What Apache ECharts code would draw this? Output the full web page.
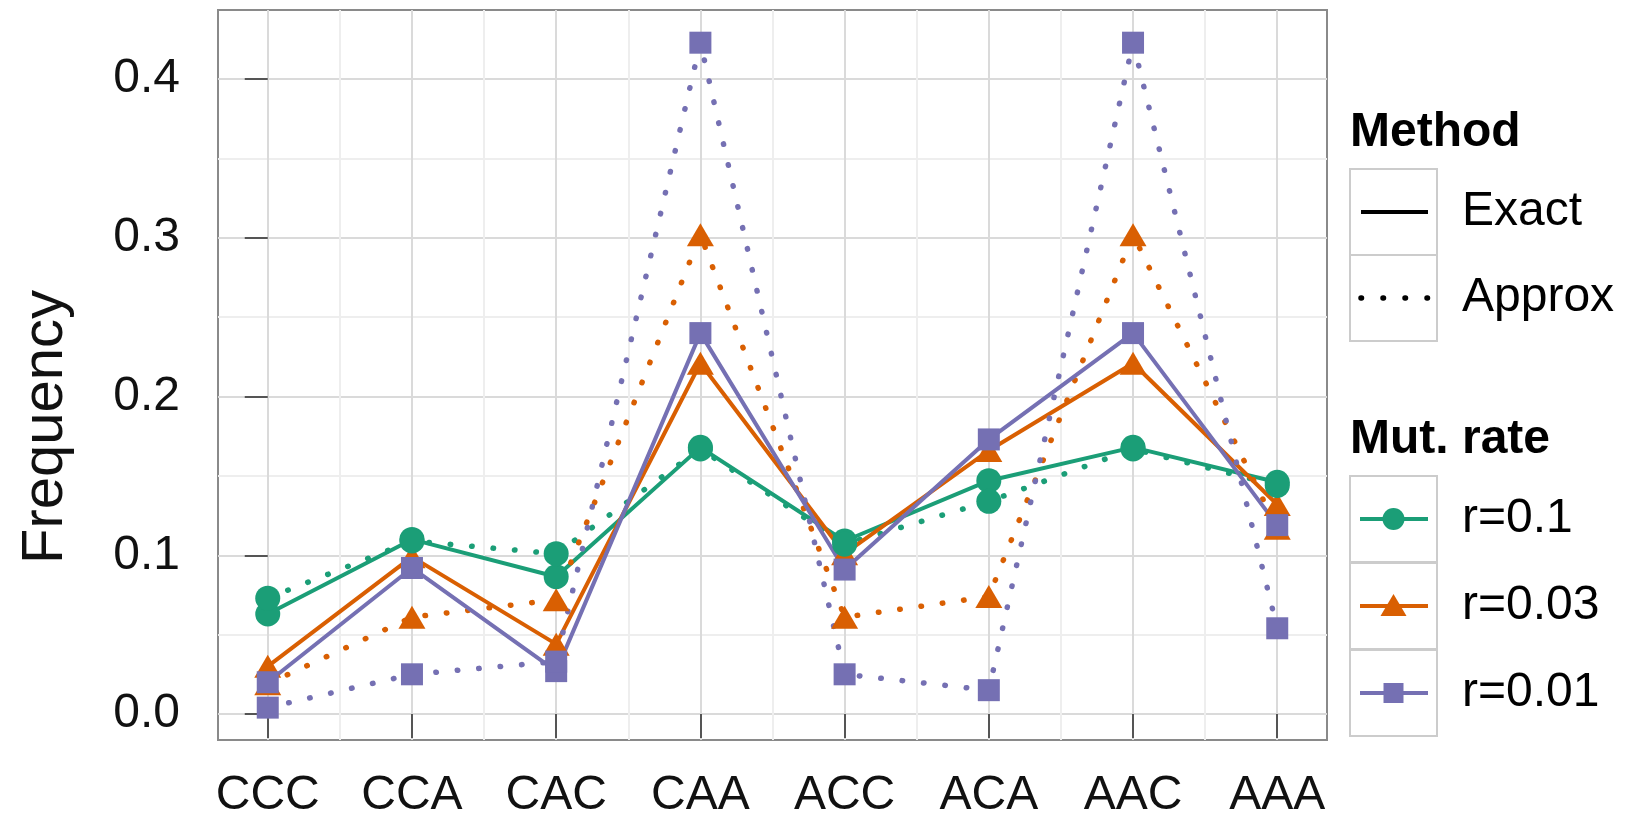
<!DOCTYPE html>
<html><head><meta charset="utf-8">
<script src="https://cdn.jsdelivr.net/npm/echarts@6/dist/echarts.min.js"></script>
<style>html,body{margin:0;padding:0;background:#fff}#c{width:1630px;height:820px}</style>
</head><body><div id="c"></div>
<script>
// ---- data ----
const categories = ['CCC', 'CCA', 'CAC', 'CAA', 'ACC', 'ACA', 'AAC', 'AAA'];
const yTicks = [0, 0.1, 0.2, 0.3, 0.4];
const yMinorTicks = [0.05, 0.15, 0.25, 0.35];
const rateNames = ['r=0.1', 'r=0.03', 'r=0.01'];
const methodNames = ['Exact', 'Approx'];
const exactR01  = [0.063, 0.110, 0.0865, 0.168, 0.109, 0.147, 0.168, 0.146];
const approxR01 = [0.073, 0.109, 0.101, 0.167, 0.107, 0.134, 0.167, 0.144];
const exactR003  = [0.030, 0.099, 0.044, 0.221, 0.101, 0.166, 0.221, 0.132];
const approxR003 = [0.019, 0.061, 0.072, 0.302, 0.061, 0.074, 0.302, 0.117];
const exactR001  = [0.020, 0.092, 0.027, 0.240, 0.091, 0.173, 0.240, 0.119];
const approxR001 = [0.004, 0.025, 0.033, 0.423, 0.025, 0.015, 0.423, 0.054];

// ---- styling ----
const FONT = "'Liberation Sans', Arial, Helvetica, sans-serif";
const colors = { 'r=0.1': '#1B9E77', 'r=0.03': '#D95F02', 'r=0.01': '#7570B3' };
const symbols = { 'r=0.1': 'circle', 'r=0.03': 'triangle', 'r=0.01': 'rect' };
const symbolSizes = { 'r=0.1': 25, 'r=0.03': [27, 23], 'r=0.01': 22 };
const seriesData = {
  'r=0.1': { Exact: exactR01, Approx: approxR01 },
  'r=0.03': { Exact: exactR003, Approx: approxR003 },
  'r=0.01': { Exact: exactR001, Approx: approxR001 }
};
const catIdx = categories.map((c, i) => i);
const catMinor = categories.slice(1).map((c, i) => i + 0.5);
const pairs = arr => arr.map((v, i) => [i, v]);
const dotted = { type: [0.5, 21], cap: 'round', width: 5.5 };

const series = [];
// lines first (under all points)
rateNames.forEach(r => {
  methodNames.forEach(m => {
    series.push({
      type: 'line', name: r + ' ' + m, data: pairs(seriesData[r][m]),
      showSymbol: false, symbol: 'none', z: 2, clip: false,
      lineStyle: m === 'Exact' ? { color: colors[r], width: 4 } : Object.assign({ color: colors[r] }, dotted),
      silent: true, animation: false
    });
  });
});
// markers (orange, purple, green on top)
['r=0.03', 'r=0.01', 'r=0.1'].forEach(r => {
  methodNames.forEach(m => {
    series.push({
      type: 'scatter', name: r + ' ' + m + ' pts', data: pairs(seriesData[r][m]),
      symbol: symbols[r], symbolSize: symbolSizes[r], z: 3, clip: false,
      itemStyle: { color: colors[r], opacity: 1 }, silent: true, animation: false
    });
  });
});

// ---- legend (drawn as graphics) ----
const LG = { x: 1350, keyW: 87, keyH: 86, textX: 1462 };
const graphics = [];
function text(t, x, y, bold) {
  graphics.push({ type: 'text', x: x, y: y, z: 10, style: {
    text: t, fontFamily: FONT, fontSize: 48, fontWeight: bold ? 'bold' : 'normal',
    fill: '#000', align: 'left', verticalAlign: 'middle' } });
}
function keyBox(top) {
  graphics.push({ type: 'rect', z: 9, shape: { x: LG.x, y: top, width: LG.keyW, height: LG.keyH },
    style: { fill: '#fff', stroke: '#cccccc', lineWidth: 2 } });
}
text('Method', LG.x, 133, true);
const methodTops = [169, 255];
methodNames.forEach((m, i) => {
  const top = methodTops[i], cy = top + LG.keyH / 2;
  keyBox(top);
  graphics.push({ type: 'line', z: 10, shape: { x1: LG.x + 11, y1: cy, x2: LG.x + 78, y2: cy },
    style: m === 'Exact' ? { stroke: '#000', lineWidth: 4 } :
      { stroke: '#000', lineWidth: 5.5, lineDash: [0.5, 21.5], lineCap: 'round' } });
  text(m, LG.textX, cy, false);
});
text('Mut. rate', LG.x, 440, true);
const rateTops = [476, 563, 650];
rateNames.forEach((r, i) => {
  const top = rateTops[i], cy = top + LG.keyH / 2, cx = LG.x + LG.keyW / 2;
  keyBox(top);
  graphics.push({ type: 'line', z: 10, shape: { x1: LG.x + 10, y1: cy, x2: LG.x + 78, y2: cy },
    style: { stroke: colors[r], lineWidth: 4 } });
  let mk;
  if (symbols[r] === 'circle') mk = { type: 'circle', shape: { cx: cx, cy: cy, r: 11 } };
  else if (symbols[r] === 'triangle') mk = { type: 'polygon', shape: { points: [[cx, cy - 12], [cx + 13, cy + 10], [cx - 13, cy + 10]] } };
  else mk = { type: 'rect', shape: { x: cx - 10, y: cy - 10, width: 20, height: 20 } };
  mk.z = 11; mk.style = { fill: colors[r] };
  graphics.push(mk);
  text(r, LG.textX, cy, false);
});

const tickStyle = { color: '#555', width: 2 };
const option = {
  backgroundColor: '#fff',
  animation: false,
  grid: { left: 218, top: 10, width: 1109, height: 730, show: true, containLabel: false,
    outerBoundsMode: 'none',
    backgroundColor: '#fff', borderColor: '#8a8a8a', borderWidth: 2 },
  xAxis: [{
    type: 'value', min: -0.345, max: 7.345,
    axisLine: { show: false },
    axisTick: { show: true, customValues: catIdx, length: 24, lineStyle: tickStyle },
    axisLabel: { customValues: catIdx, formatter: v => categories[Math.round(v)],
      fontFamily: FONT, fontSize: 48, color: '#111', margin: 32 },
    splitLine: { show: true, lineStyle: { color: '#dadada', width: 2 } }
  }, {
    type: 'value', min: -0.345, max: 7.345, gridIndex: 0,
    axisLine: { show: false }, axisLabel: { show: false },
    axisTick: { show: false, customValues: catMinor },
    splitLine: { show: true, lineStyle: { color: '#eeeeee', width: 2 } }
  }],
  yAxis: [{
    type: 'value', min: -0.0164, max: 0.4436,
    axisLine: { show: false },
    axisTick: { show: true, customValues: yTicks, length: 23, lineStyle: tickStyle },
    axisLabel: { customValues: yTicks, formatter: v => v.toFixed(1),
      fontFamily: FONT, fontSize: 48, color: '#111', margin: 38 },
    splitLine: { show: true, lineStyle: { color: '#dadada', width: 2 } },
    name: 'Frequency', nameLocation: 'middle', nameRotate: 90, nameGap: 143,
    nameTextStyle: { fontFamily: FONT, fontSize: 58, color: '#111', padding: [0, 104, 0, 0] }
  }, {
    type: 'value', min: -0.0164, max: 0.4436, gridIndex: 0,
    axisLine: { show: false }, axisLabel: { show: false },
    axisTick: { show: false, customValues: yMinorTicks },
    splitLine: { show: true, lineStyle: { color: '#eeeeee', width: 2 } }
  }],
  series: series,
  graphic: graphics
};
const chart = echarts.init(document.getElementById('c'), null, { renderer: 'canvas' });
chart.setOption(option);
</script>
</body></html>
